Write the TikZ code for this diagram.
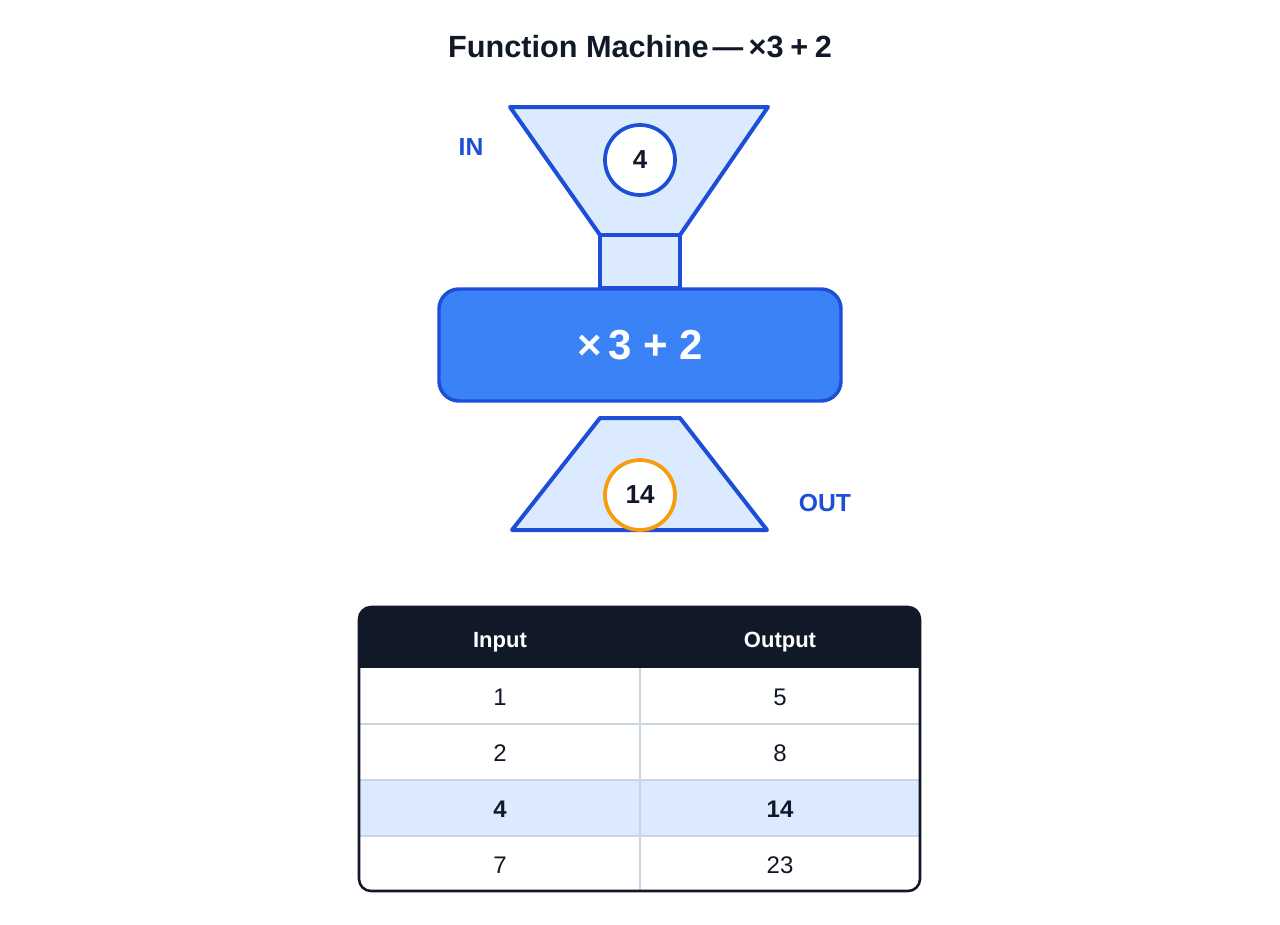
\documentclass[tikz,border=0pt]{standalone}
\usepackage{fontspec}
\setmainfont{Liberation Sans}
\definecolor{blueS}{HTML}{1D4ED8}
\definecolor{lightB}{HTML}{DBEAFE}
\definecolor{machF}{HTML}{3B82F6}
\definecolor{orangeS}{HTML}{F59E0B}
\definecolor{darkT}{HTML}{111827}
\definecolor{gridC}{HTML}{CBD5E1}
\begin{document}
\begin{tikzpicture}[x=0.75pt,y=-0.75pt,
  funnel/.style={draw=blueS,fill=lightB,line width=3pt,line join=round},
  valcirc/.style={circle,fill=white,line width=2.8pt,minimum size=52.5pt,inner sep=0pt,
     font=\bfseries\fontsize{19.5}{22}\selectfont,text=darkT},
  sidelbl/.style={font=\bfseries\fontsize{18.5}{21}\selectfont,text=blueS},
  hdr/.style={anchor=base,font=\bfseries\fontsize{16.5}{19}\selectfont,text=white},
  cell/.style={anchor=base,font=\fontsize{18}{21}\selectfont,text=darkT},
  cellb/.style={anchor=base,font=\bfseries\fontsize{18}{21}\selectfont,text=darkT}]
\useasboundingbox (0,0) rectangle (1280,924);
\fill[white] (0,0) rectangle (1280,924);

% title
\node[font=\bfseries\fontsize{23}{27}\selectfont,text=darkT] (title) at (640,47)
  {Function Machine\hspace{3pt}—\hspace{4pt}×3\hspace{5pt}+\hspace{5pt}2};

% input funnel
\coordinate (ftl) at (510,107);
\coordinate (ftr) at (768,107);
\coordinate (fbr) at (680,235);
\coordinate (fbl) at (600,235);
\draw[funnel] (ftl) -- (ftr) -- (fbr) -- (fbl) -- cycle;
\coordinate (nbr) at (680,288);
\draw[funnel] (fbl) rectangle (nbr);
\node[valcirc,draw=blueS] (inval) at (640,160) {4};
\node[sidelbl] (inlbl) at (471,147) {IN};

% machine
\node[draw=blueS,fill=machF,line width=2.6pt,rounded corners=15pt,
  minimum width=301.5pt,minimum height=84pt,
  font=\bfseries\fontsize{31.5}{36}\selectfont,text=white] (machine) at (640,345)
  {×\hspace{5pt}3\hspace{9pt}+\hspace{8pt}2};

% output tray
\coordinate (otl) at (600,418);
\coordinate (otr) at (680,418);
\coordinate (obr) at (767,530);
\coordinate (obl) at (512,530);
\draw[funnel] (otl) -- (otr) -- (obr) -- (obl) -- cycle;
\node[valcirc,draw=orangeS] (outval) at (640,495) {14};
\node[sidelbl] (outlbl) at (825,503) {OUT};

% table
\coordinate (tTL) at (359,607);
\coordinate (tBR) at (920,891);
\begin{scope}
  \clip[rounded corners=9pt] (tTL) rectangle (tBR);
  \fill[darkT] (359,607) rectangle (920,668);
  \fill[lightB] (359,780) rectangle (920,836);
  \draw[gridC,line width=1.5pt] (359,724) -- (920,724) (359,780) -- (920,780) (359,836) -- (920,836);
  \draw[gridC,line width=1.5pt] (640,668) -- (640,891);
\end{scope}
\draw[darkT,line width=1.9pt,rounded corners=9pt] (tTL) rectangle (tBR);

\node[hdr] (h1) at (500,647) {Input};
\node[hdr] (h2) at (780,647) {Output};
\node[cell] (a1) at (500,705) {1};
\node[cell] (b1) at (780,705) {5};
\node[cell] (a2) at (500,761) {2};
\node[cell] (b2) at (780,761) {8};
\node[cellb] (a3) at (500,817) {4};
\node[cellb] (b3) at (780,817) {14};
\node[cell] (a4) at (500,873) {7};
\node[cell] (b4) at (780,873) {23};
\end{tikzpicture}
\end{document}
